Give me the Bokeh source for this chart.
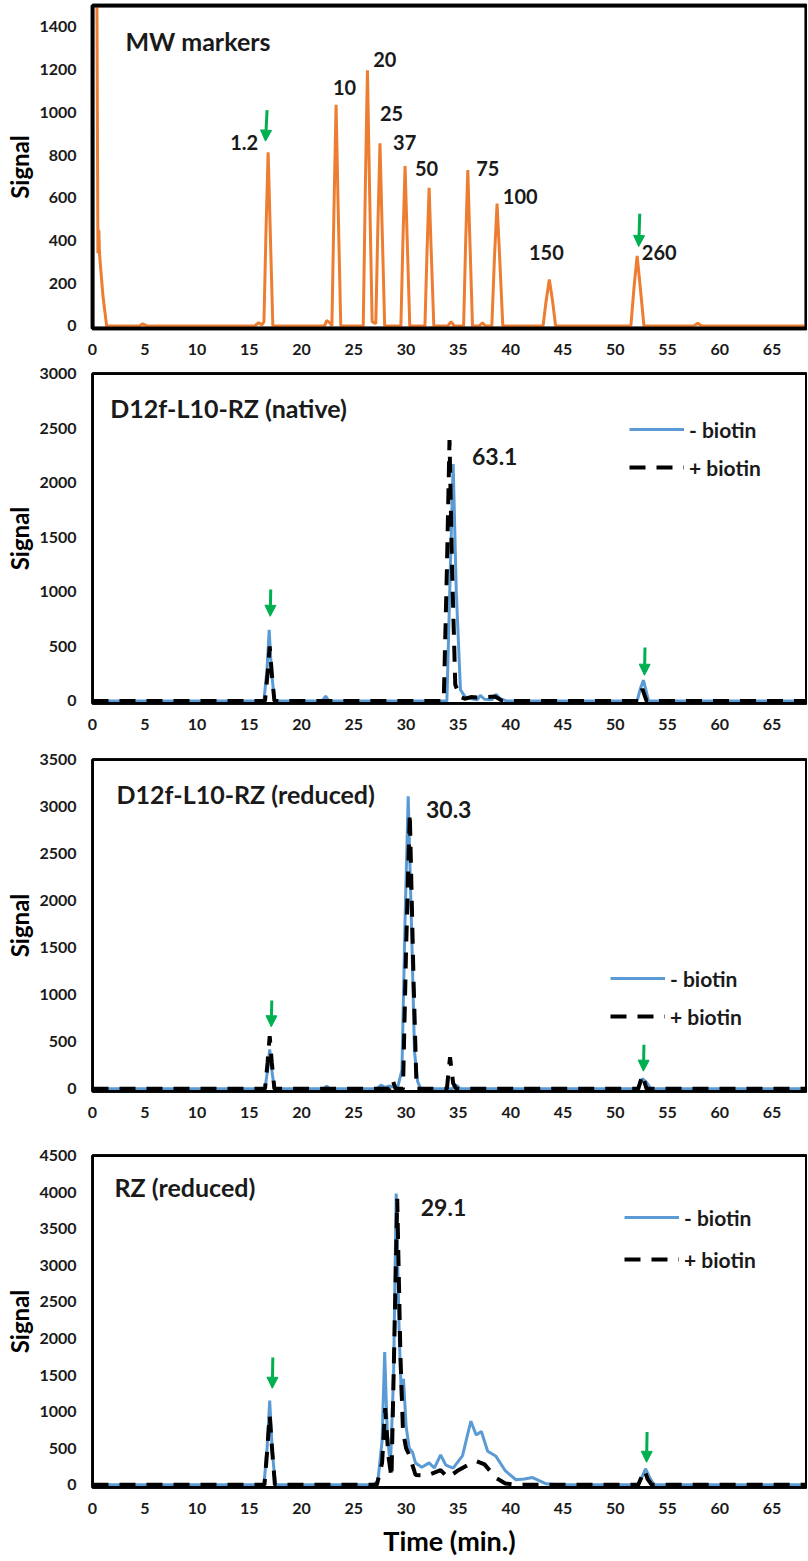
from bokeh.plotting import figure
from bokeh.layouts import column
from bokeh.models import (Range1d, FixedTicker, Label, Arrow, NormalHead,
                          Legend, LegendItem, LinearAxis, BoxAnnotation)
from bokeh.embed import file_html
from bokeh.resources import INLINE

# ---------------- data ----------------
# Panel 1: MW markers (orange)
MW_TIME = [
    0.35, 0.42, 0.52, 0.60, 0.68, 1.00, 1.35,
    4.50, 4.80, 5.20,
    15.5, 15.9, 16.2,
    16.4, 16.6, 16.8, 17.0, 17.25,
    22.2, 22.4, 22.7,
    22.9, 23.1, 23.3, 23.5, 23.75,
    25.9, 26.1, 26.3, 26.5, 26.75,
    27.1, 27.3, 27.5, 27.7, 27.95,
    29.5, 29.7, 29.9, 30.1, 30.35,
    31.8, 32.0, 32.2, 32.4, 32.65,
    34.0, 34.3, 34.6,
    35.5, 35.7, 35.9, 36.1, 36.35,
    37.0, 37.3, 37.6,
    38.2, 38.45, 38.7, 38.95, 39.25,
    43.1, 43.4, 43.7, 44.0, 44.3,
    51.5, 51.8, 52.1, 52.4, 52.75,
    57.5, 57.9, 58.3,
    68.3]
MW_SIGNAL = [
    1560, 1560, 340, 450, 330, 140, 0,
    0, 10, 0,
    0, 15, 5,
    20, 450, 813, 450, 0,
    0, 25, 15,
    0, 550, 1035, 550, 0,
    0, 650, 1197, 650, 20,
    10, 470, 855, 470, 0,
    0, 410, 749, 410, 0,
    0, 350, 647, 350, 0,
    0, 20, 0,
    0, 400, 730, 400, 0,
    0, 15, 0,
    0, 320, 573, 320, 0,
    0, 120, 217, 120, 0,
    0, 180, 328, 180, 0,
    0, 12, 0,
    0]
MW_LABELS = ["1.2", "10", "20", "25", "37", "50", "75", "100", "150", "260"]

# Panel 2: D12f-L10-RZ (native)
NATIVE_TIME_MINUS = [0, 16.4, 16.7, 16.9, 17.1, 17.4, 22.0, 22.3, 22.6,
                     33.9, 34.2, 34.5, 34.8, 35.2, 35.7, 36.3, 36.8, 37.1, 37.5,
                     38.2, 38.6, 39.0, 39.6, 52.1, 52.4, 52.7, 53.2, 68.3]
NATIVE_SIGNAL_MINUS = [0, 0, 300, 650, 300, 0, 0, 45, 0,
                       0, 1100, 2170, 1000, 100, 30, 20, 10, 50, 15,
                       10, 60, 20, 0, 0, 110, 190, 0, 0]
NATIVE_TIME_PLUS = [0, 16.5, 16.75, 16.95, 17.15, 17.4, 33.6, 33.9, 34.15, 34.4,
                    34.7, 35.1, 35.6, 36.2, 37.2, 38.5, 39.2, 52.2, 52.6, 53.0, 68.3]
NATIVE_SIGNAL_PLUS = [0, 0, 250, 500, 250, 0, 0, 1200, 2390, 1200,
                      150, 40, 20, 35, 30, 40, 0, 0, 110, 0, 0]

# Panel 3: D12f-L10-RZ (reduced)
RED_TIME_MINUS = [0, 16.5, 16.75, 16.95, 17.15, 17.4, 22.1, 22.4, 22.7,
                  27.2, 27.6, 28.0, 28.4, 28.8, 29.2, 29.6, 29.9, 30.2, 30.5,
                  30.8, 31.1, 31.4, 34.4, 34.8, 35.2, 52.2, 52.6, 53.0, 53.4, 68.3]
RED_SIGNAL_MINUS = [0, 0, 200, 420, 200, 0, 0, 30, 0,
                    0, 40, 15, 30, 20, 20, 200, 1800, 3110, 1800,
                    400, 80, 0, 0, 40, 0, 0, 110, 70, 0, 0]
RED_TIME_PLUS = [0, 16.5, 16.75, 16.95, 17.15, 17.4, 28.4, 28.7, 29.0, 29.7,
                 30.0, 30.35, 30.7, 31.0, 33.9, 34.2, 34.5, 34.8, 52.2, 52.6, 53.0, 68.3]
RED_SIGNAL_PLUS = [0, 0, 280, 560, 280, 0, 0, 95, 0, 0,
                   1500, 2930, 1200, 0, 0, 337, 60, 0, 0, 148, 0, 0]

# Panel 4: RZ (reduced)
RZ_TIME_MINUS = [0, 16.4, 16.7, 16.95, 17.2, 17.5, 26.8, 27.3, 27.7, 27.95,
                 28.2, 28.5, 28.8, 29.05, 29.35, 29.55, 29.75, 30.0, 30.3, 30.6,
                 30.9, 31.5, 32.2, 32.7, 33.3, 33.8, 34.5, 35.4, 35.9, 36.2,
                 36.7, 37.2, 37.8, 38.6, 39.5, 40.5, 41.3, 42.1, 43.4, 44.5,
                 52.2, 52.6, 52.9, 53.3, 53.7, 68.3]
RZ_SIGNAL_MINUS = [0, 0, 500, 1150, 450, 0, 0, 50, 600, 1815,
                   700, 250, 1500, 3980, 2000, 1200, 1450, 800, 500, 450,
                   300, 240, 300, 230, 410, 270, 230, 400, 700, 870,
                   680, 730, 460, 390, 190, 70, 80, 100, 15, 0,
                   0, 120, 220, 100, 0, 0]
RZ_TIME_PLUS = [0, 16.45, 16.7, 16.95, 17.2, 17.45, 27.2, 27.7, 28.0, 28.3,
                28.6, 28.85, 29.15, 29.45, 29.7, 30.0, 30.3, 30.9, 32.0, 33.3,
                34.0, 35.0, 36.0, 36.7, 37.5, 38.6, 39.5, 40.5, 52.2, 52.5,
                52.8, 53.1, 53.5, 68.3]
RZ_SIGNAL_PLUS = [0, 0, 450, 950, 450, 0, 0, 300, 1050, 400,
                  100, 1800, 3910, 1800, 730, 500, 410, 135, 130, 200,
                  100, 200, 280, 325, 280, 95, 20, 0, 0, 100,
                  200, 80, 0, 0]

X_TICKS = list(range(0, 70, 5))
SERIES_NAMES = ["- biotin", "+ biotin"]

# ---------------- styles ----------------
FONT = "Lato"
TXT = "#1a1a1a"
ORANGE = "#ED7D31"
BLUE = "#5B9BD5"
GREEN = "#00B050"
DASH = "16 11"
X_MAX = 68.3


def frame_axis(w):
    return LinearAxis(ticker=FixedTicker(ticks=[]), axis_line_color="black",
                      axis_line_width=w, major_tick_line_color=None,
                      minor_tick_line_color=None, major_tick_out=0, major_tick_in=0,
                      minor_tick_out=0, minor_tick_in=0, major_label_standoff=0,
                      major_label_text_font_size="0px")


def make_fig(height, frame_left, border_top, border_bottom, ymax, yticks,
             show_xlabel=False, frame_w=2.5):
    ymin = -0.008 * ymax
    p = figure(width=807, height=height,
               x_range=Range1d(0, X_MAX), y_range=Range1d(ymin, ymax),
               output_backend="svg", toolbar_location=None,
               min_border_left=frame_left, min_border_right=1,
               min_border_top=border_top, min_border_bottom=border_bottom)
    p.xgrid.visible = False
    p.ygrid.visible = False
    p.outline_line_color = "black"
    p.outline_line_width = frame_w
    p.background_fill_color = "white"
    p.border_fill_color = "white"
    for ax in (p.xaxis[0], p.yaxis[0]):
        ax.axis_line_color = "black"
        ax.axis_line_width = frame_w
        ax.major_tick_line_color = None
        ax.minor_tick_line_color = None
        ax.major_tick_out = 0
        ax.major_tick_in = 0
        ax.minor_tick_out = 0
        ax.minor_tick_in = 0
        ax.major_label_text_font = FONT
        ax.major_label_text_font_size = "16px"
        ax.major_label_text_font_style = "bold"
        ax.major_label_text_color = TXT
    p.xaxis[0].ticker = FixedTicker(ticks=X_TICKS)
    p.xaxis[0].major_label_standoff = 15
    p.yaxis[0].ticker = FixedTicker(ticks=yticks)
    p.yaxis[0].major_label_standoff = 16
    p.yaxis[0].axis_label = "Signal"
    p.yaxis[0].axis_label_standoff = 2
    p.yaxis[0].axis_label_text_font = FONT
    p.yaxis[0].axis_label_text_font_size = "24px"
    p.yaxis[0].axis_label_text_font_style = "bold"
    p.yaxis[0].axis_label_text_color = "black"
    if show_xlabel:
        p.xaxis[0].axis_label = "Time (min.)"
        p.xaxis[0].axis_label_standoff = 7
        p.xaxis[0].axis_label_text_font = FONT
        p.xaxis[0].axis_label_text_font_size = "27px"
        p.xaxis[0].axis_label_text_font_style = "bold"
        p.xaxis[0].axis_label_text_color = "black"
    p.add_layout(frame_axis(frame_w), "above")
    p.add_layout(frame_axis(frame_w), "right")
    p.add_layout(BoxAnnotation(left=0, right=X_MAX, bottom=ymin, top=ymax,
                               fill_alpha=0, line_color="black", line_alpha=1,
                               line_width=frame_w))
    return p


def add_label(p, x, y, text, size="20px", align="left"):
    p.add_layout(Label(x=x, y=y, text=text, text_font=FONT, text_font_size=size,
                       text_font_style="bold", text_color=TXT,
                       text_baseline="middle", text_align=align))


def add_arrow(p, x0, y0, x1, y1):
    p.add_layout(Arrow(end=NormalHead(size=11, fill_color=GREEN, line_color=GREEN, line_width=1),
                       x_start=x0, y_start=y0, x_end=x1, y_end=y1,
                       line_color=GREEN, line_width=3))


def add_pair(p, tm, sm, tp, sp, loc, spacing):
    r1 = p.line(tm, sm, line_color=BLUE, line_width=3)
    r2 = p.line(tp, sp, line_color="black", line_width=4, line_dash=DASH)
    leg = Legend(items=[LegendItem(label=SERIES_NAMES[0], renderers=[r1]),
                        LegendItem(label=SERIES_NAMES[1], renderers=[r2])],
                 location=loc, orientation="vertical", padding=0, margin=0,
                 spacing=spacing, glyph_width=55, glyph_height=26, label_height=26,
                 label_standoff=5, border_line_color=None, background_fill_alpha=0,
                 label_text_font=FONT, label_text_font_size="21px",
                 label_text_font_style="bold", label_text_color=TXT)
    p.add_layout(leg)


# ---------------- panel 1 ----------------
p1 = make_fig(362, 92, 5, 34, 1500, list(range(0, 1401, 200)), frame_w=3.5)
p1.line(MW_TIME, MW_SIGNAL, line_color=ORANGE, line_width=3)
add_label(p1, 3.15, 1335, "MW markers", size="25px")
mw_label_pos = [(15.85, 859, "right"), (23.0, 1118, "left"), (26.85, 1247, "left"),
                (27.5, 993, "left"), (28.75, 859, "left"), (30.85, 735, "left"),
                (36.7, 735, "left"), (39.25, 605, "left"), (41.75, 346, "left"),
                (52.55, 346, "left")]
for txt, (lx, ly, al) in zip(MW_LABELS, mw_label_pos):
    add_label(p1, lx, ly, txt, size="20px", align=al)
add_arrow(p1, 16.7, 1010, 16.55, 865)
add_arrow(p1, 52.35, 525, 52.25, 372)

# ---------------- panel 2 ----------------
p2 = make_fig(375, 90, 11, 34, 3000, list(range(0, 3001, 500)))
add_pair(p2, NATIVE_TIME_MINUS, NATIVE_SIGNAL_MINUS, NATIVE_TIME_PLUS, NATIVE_SIGNAL_PLUS,
         (537, 223), 12)
add_label(p2, 1.7, 2680, "D12f-L10-RZ (native)", size="25px")
add_label(p2, 36.3, 2240, "63.1", size="23px")
add_arrow(p2, 17.05, 1020, 17.0, 775)
add_arrow(p2, 52.85, 490, 52.8, 235)

# ---------------- panel 3 ----------------
p3 = make_fig(388, 90, 22, 34, 3500, list(range(0, 3501, 500)))
add_pair(p3, RED_TIME_MINUS, RED_SIGNAL_MINUS, RED_TIME_PLUS, RED_SIGNAL_PLUS,
         (518, 62), 12)
add_label(p3, 2.3, 3130, "D12f-L10-RZ (reduced)", size="25px")
add_label(p3, 31.9, 2972, "30.3", size="23px")
add_arrow(p3, 17.15, 940, 17.1, 660)
add_arrow(p3, 52.75, 468, 52.7, 188)

# ---------------- panel 4 ----------------
p4 = make_fig(436, 86, 30, 74, 4500, list(range(0, 4501, 500)), show_xlabel=True)
add_pair(p4, RZ_TIME_MINUS, RZ_SIGNAL_MINUS, RZ_TIME_PLUS, RZ_SIGNAL_PLUS,
         (532, 215), 16)
add_label(p4, 2.1, 4065, "RZ (reduced)", size="25px")
add_label(p4, 31.4, 3794, "29.1", size="23px")
add_arrow(p4, 17.25, 1740, 17.2, 1320)
add_arrow(p4, 53.05, 722, 53.0, 308)

layout = column(p1, p2, p3, p4, spacing=0)
open("out.html", "w").write(file_html(layout, INLINE))
